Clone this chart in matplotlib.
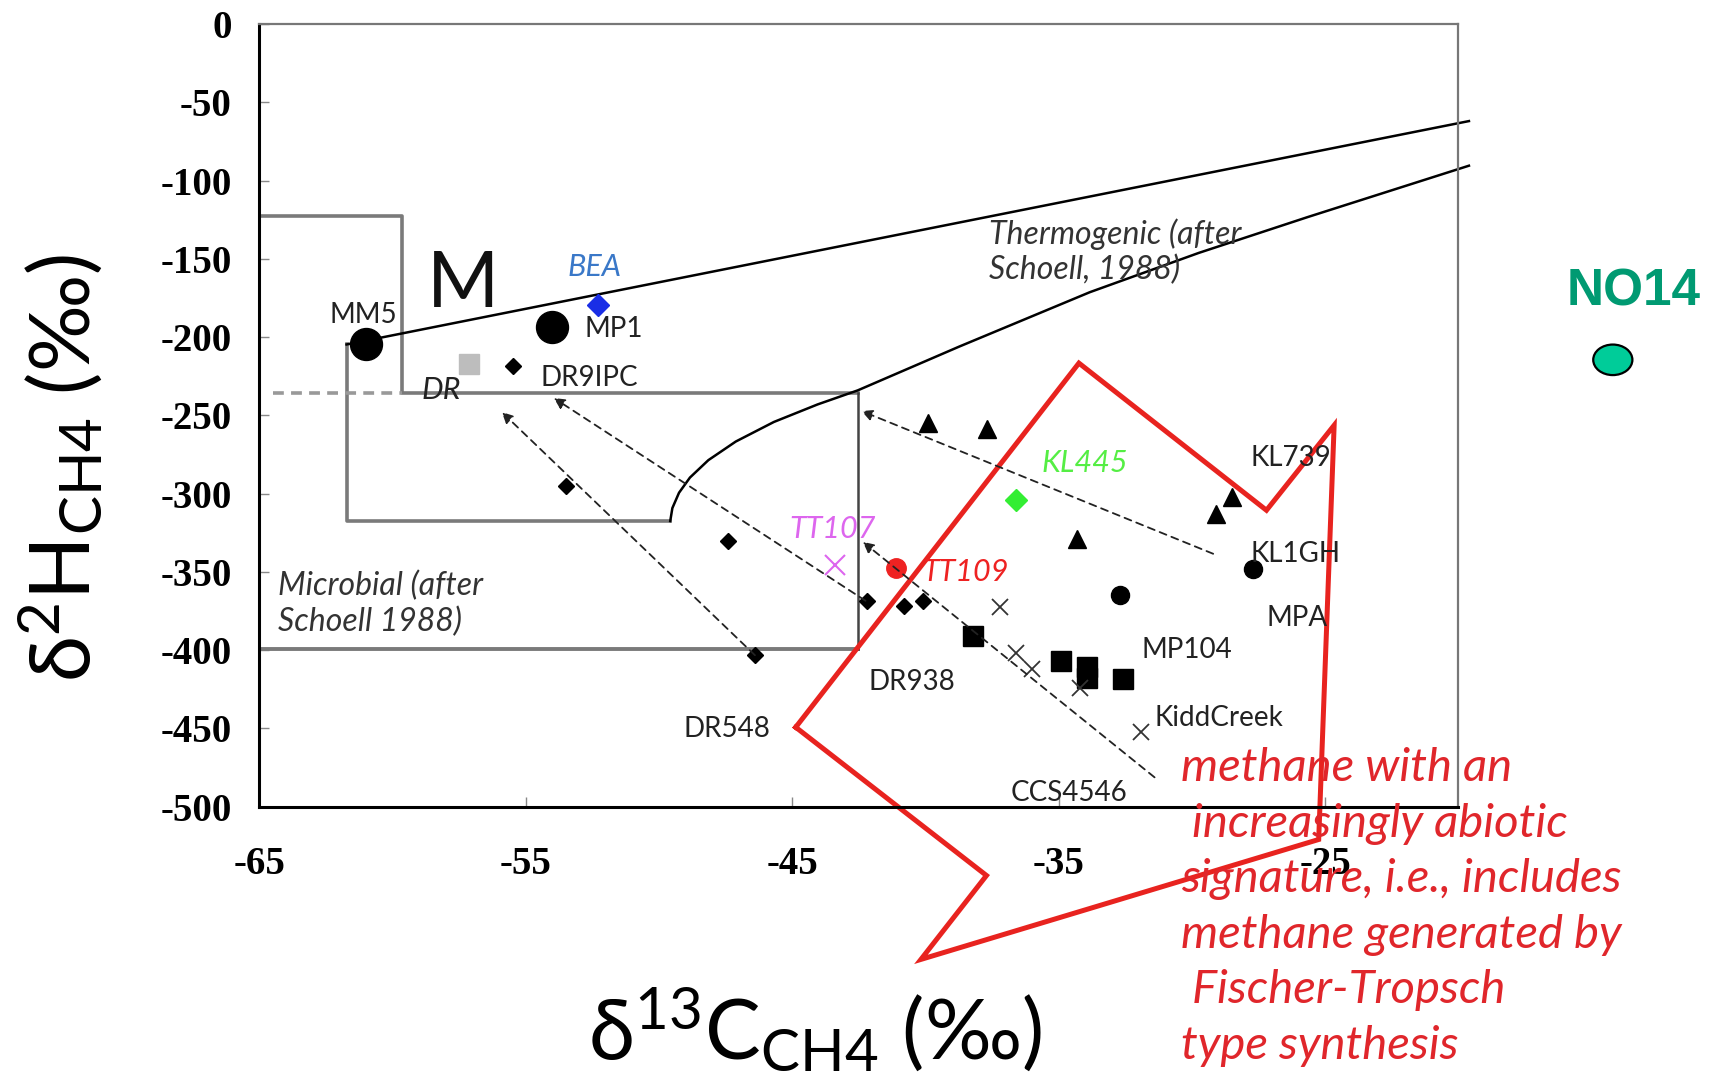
import matplotlib
matplotlib.use("Agg")
import matplotlib.pyplot as plt
from matplotlib.patches import Ellipse

# ---- data (d13C, d2H in permil) ----
big_circles_x = [-61.0, -54.0]
big_circles_y = [-204.7, -193.6]
small_circles_x = [-32.7, -27.7]
small_circles_y = [-364.9, -348.2]
diamonds_x = [-55.5, -53.5, -47.4, -46.4, -42.2, -40.8, -40.1]
diamonds_y = [-218.7, -295.3, -330.1, -403.2, -368.4, -371.9, -368.4]
triangles_x = [-39.9, -37.7, -34.3, -29.1, -28.5]
triangles_y = [-254.9, -258.4, -328.7, -312.7, -302.2]
squares_x = [-38.2, -34.9, -33.95, -33.95, -32.6]
squares_y = [-390.7, -406.7, -410.9, -417.9, -418.5]
crosses_x = [-37.2, -36.6, -36.0, -34.2, -31.9]
crosses_y = [-372.6, -401.8, -412.3, -424.1, -452.0]

bea = (-52.3, -179.7)
dr = (-57.15, -217.3)
tt107 = (-43.4, -345.4)
tt109 = (-41.1, -347.5)
kl445 = (-36.6, -304.3)
no14 = (-14.2, -214.5)

# dashed trend arrows: (tail, head)
arrows = [((-46.4, -403.2), (-55.9, -247.9)),
          ((-42.25, -368.4), (-53.95, -238.9)),
          ((-29.2, -338.4), (-42.4, -247.2)),
          ((-31.4, -481.2), (-42.35, -330.8))]

# field boundaries (Schoell 1988)
thermo_upper_x = [-61.73, -19.6]
thermo_upper_y = [-204.7, -62.0]
thermo_lower_x = [-49.58, -49.5, -49.25, -48.84, -48.15, -47.12, -45.69, -44.05,
                  -42.54, -38.74, -33.83, -29.74, -25.65, -19.6]
thermo_lower_y = [-317.5, -309.2, -299.4, -289.7, -278.6, -266.7, -254.2, -243.0,
                  -234.0, -206.1, -171.3, -146.2, -123.3, -90.5]
micro_outer_x = [-65, -59.64, -59.64, -42.54]
micro_outer_y = [-122.6, -122.6, -235.4, -235.4]
micro_inner_x = [-61.73, -61.73, -49.58]
micro_inner_y = [-204.7, -317.5, -317.5]
micro_right_x = [-42.54, -42.54]
micro_right_y = [-235.4, -399.0]
micro_bottom_x = [-65, -42.54]
micro_bottom_y = [-399.0, -399.0]
micro_dash_x = [-64.5, -59.64]
micro_dash_y = [-235.4, -235.4]

# red "abiotic" arrow outline
abiotic_x = [-44.87, -34.24, -27.2, -24.66, -25.24, -40.17, -37.71, -44.87]
abiotic_y = [-449.2, -216.6, -310.6, -256.3, -520.9, -597.5, -543.9, -449.2]

# sample labels: (text, x, y)
sample_labels = [("MM5", -61.1, -185.9), ("MP1", -51.7, -195.0),
                 ("DR9IPC", -52.6, -226.3), ("KL739", -26.3, -277.2),
                 ("KL1GH", -26.1, -338.4), ("MPA", -26.05, -379.5),
                 ("MP104", -30.2, -399.7), ("KiddCreek", -29.0, -443.6),
                 ("DR938", -40.5, -420.6), ("DR548", -47.45, -450.6),
                 ("CCS4546", -34.6, -490.9)]

plt.rcParams["font.family"] = ["Lato", "DejaVu Sans"]
plt.rcParams["mathtext.fontset"] = "custom"
plt.rcParams["mathtext.rm"] = "Lato"
plt.rcParams["mathtext.it"] = "Lato:italic"
plt.rcParams["axes.unicode_minus"] = False

fig = plt.figure(figsize=(17.09, 10.87), dpi=100)
ax = fig.add_axes([0.1518, 0.2578, 0.7015, 0.7201])
ax.set_xlim(-65, -20)
ax.set_ylim(-500, 0)

for side in ["left", "bottom"]:
    ax.spines[side].set_color("black")
    ax.spines[side].set_linewidth(2.2)
for side in ["top", "right"]:
    ax.spines[side].set_color("#777777")
    ax.spines[side].set_linewidth(1.6)

ax.set_xticks([-65, -55, -45, -35, -25])
ax.set_yticks(range(-500, 1, 50))
ax.tick_params(direction="in", length=7, width=1, color="#888888")
ax.tick_params(axis="y", pad=20)
ax.tick_params(axis="x", pad=28)
for lab in ax.get_xticklabels() + ax.get_yticklabels():
    lab.set_fontfamily("Liberation Serif")
    lab.set_fontweight("bold")
    lab.set_fontsize(28)

# boundaries
grey = "#7a7a7a"
ax.plot(micro_outer_x, micro_outer_y, color=grey, lw=2.6)
ax.plot(micro_inner_x, micro_inner_y, color=grey, lw=2.6)
ax.plot(micro_bottom_x, micro_bottom_y, color=grey, lw=2.8)
ax.plot(micro_right_x, micro_right_y, color="#444444", lw=1.8)
ax.plot(micro_dash_x, micro_dash_y, color="#999999", lw=2.6, ls=(0, (3, 2)))
ax.plot(thermo_upper_x, thermo_upper_y, color="black", lw=1.8, clip_on=False)
ax.plot(thermo_lower_x, thermo_lower_y, color="black", lw=1.8, clip_on=False)

for tail, head in arrows:
    ax.annotate("", xy=head, xytext=tail,
                arrowprops=dict(arrowstyle="-|>", ls=(0, (4, 3)), lw=1.3,
                                color="#222222", mutation_scale=16,
                                shrinkA=0, shrinkB=0))

# samples
ax.plot(big_circles_x, big_circles_y, "o", color="black", ms=23)
ax.plot(small_circles_x, small_circles_y, "o", color="black", ms=13)
ax.plot(diamonds_x, diamonds_y, "D", color="black", ms=8)
ax.plot(triangles_x, triangles_y, "^", color="black", ms=13)
ax.plot(squares_x, squares_y, "s", color="black", ms=14)
ax.plot(crosses_x, crosses_y, "x", color="#333333", ms=11, mew=1.3)
ax.plot(*bea, "D", color="#1a2ee6", ms=11)
ax.plot(*dr, "s", color="#bdbdbd", ms=14)
ax.plot(*tt107, "x", color="#dd66ee", ms=15, mew=1.5)
ax.plot(*tt109, "o", color="#ee2222", ms=14)
ax.plot(*kl445, "D", color="#33ee33", ms=11)

for txt, x, y in sample_labels:
    ax.text(x, y, txt, fontsize=20, color="#222222", ha="center", va="center")

ax.text(-52.44, -155.3, "BEA", fontsize=22, style="italic", color="#3a78c8",
        ha="center", va="center")
ax.text(-58.17, -234.0, "DR", fontsize=22, style="italic", color="#222222",
        ha="center", va="center")
ax.text(-43.5, -322.4, "TT107", fontsize=22, style="italic", color="#dd66ee",
        ha="center", va="center")
ax.text(-38.5, -350.3, "TT109", fontsize=22, style="italic", color="#ee2222",
        ha="center", va="center")
ax.text(-34.0, -280.6, "KL445", fontsize=22, style="italic", color="#55ee44",
        ha="center", va="center")
ax.text(-57.35, -167.1, "M", fontsize=56, color="#111111", ha="center", va="center")

ax.text(-37.6, -145.5, "Thermogenic (after\nSchoell, 1988)", fontsize=23,
        style="italic", color="#333333", ha="left", va="center", linespacing=1.2)
ax.text(-64.3, -370.5, "Microbial (after\nSchoell 1988)", fontsize=23,
        style="italic", color="#333333", ha="left", va="center", linespacing=1.2)

# abiotic outline and note
ax.plot(abiotic_x, abiotic_y, color="#e8231f", lw=3.6, clip_on=False,
        solid_joinstyle="miter")
ax.text(-30.4, -564.0,
        "methane with an\n increasingly abiotic\nsignature, i.e., includes\n"
        "methane generated by\n Fischer-Tropsch\ntype synthesis",
        fontsize=34, style="italic", color="#e0262b", ha="left", va="center",
        linespacing=1.4)

# NO14 outlier outside the frame
ax.add_patch(Ellipse(no14, width=1.47, height=19.5, facecolor="#00cc99",
                     edgecolor="black", lw=1.6, clip_on=False))
ax.text(-13.4, -171.3, "NO14", fontsize=37, fontweight="bold",
        fontfamily="Liberation Sans", color="#009a72", ha="center", va="center")

ax.set_xlabel(r"δ$^{13}$C$_{\mathrm{CH4}}$ (‰)", fontsize=60)
ax.set_ylabel(r"δ$^{2}$H$_{\mathrm{CH4}}$ (‰)", fontsize=60)
ax.xaxis.label.set_va("center")
ax.yaxis.label.set_va("center")
ax.xaxis.set_label_coords(0.463, -0.285)
ax.yaxis.set_label_coords(-0.166, 0.432)

fig.savefig("out.png", dpi=100)
